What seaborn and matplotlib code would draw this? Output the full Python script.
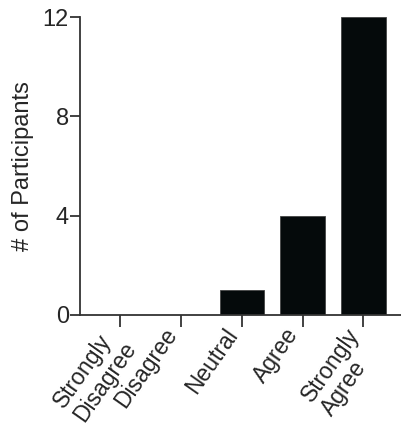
import pandas as pd
import matplotlib
matplotlib.use('Agg')
import matplotlib.pyplot as plt
import matplotlib.transforms as mtransforms
import seaborn as sns

# Data
categories = ['Strongly\nDisagree', 'Disagree', 'Neutral', 'Agree', 'Strongly\nAgree']
participants = [0, 0, 1, 4, 12]
y_ticks = [0, 4, 8, 12]

data = pd.DataFrame({'response': categories, 'count': participants})

sns.set_style('ticks')
plt.rcParams['font.family'] = ['Liberation Sans', 'DejaVu Sans']

fig = plt.figure(figsize=(4.01, 4.25), dpi=100)
ax = fig.add_axes([0.1995, 0.259, 0.81, 0.701])

sns.barplot(data=data, x='response', y='count', color='#050a0b',
            saturation=1, width=0.73, edgecolor='#444444', linewidth=0.6, ax=ax)

ax.set_xlim(-0.66, 4.68)
ax.set_ylim(0, 12)
ax.set_yticks(y_ticks)
ax.set_ylabel('# of Participants', fontsize=17, labelpad=6)
ax.set_xlabel('')

for side in ['top', 'right']:
    ax.spines[side].set_visible(False)
for side in ['left', 'bottom']:
    ax.spines[side].set_color('#333333')
    ax.spines[side].set_linewidth(1.3)

ax.tick_params(axis='y', length=7, width=1.3, color='#333333', labelsize=17, pad=1)
ax.tick_params(axis='x', length=8.5, width=1.3, color='#333333', labelsize=16.5, pad=0)

# rotated labels, lines left aligned, nudged left so they end under the tick
shift = mtransforms.ScaledTranslation(-13 / 72, 2 / 72, fig.dpi_scale_trans)
for lab in ax.get_xticklabels():
    lab.set_rotation(55)
    lab.set_ha('right')
    lab.set_va('top')
    lab.set_rotation_mode('anchor')
    lab.set_multialignment('left')
    lab.set_linespacing(1.08)
    lab.set_transform(lab.get_transform() + shift)

fig.savefig('out.png', dpi=100)
